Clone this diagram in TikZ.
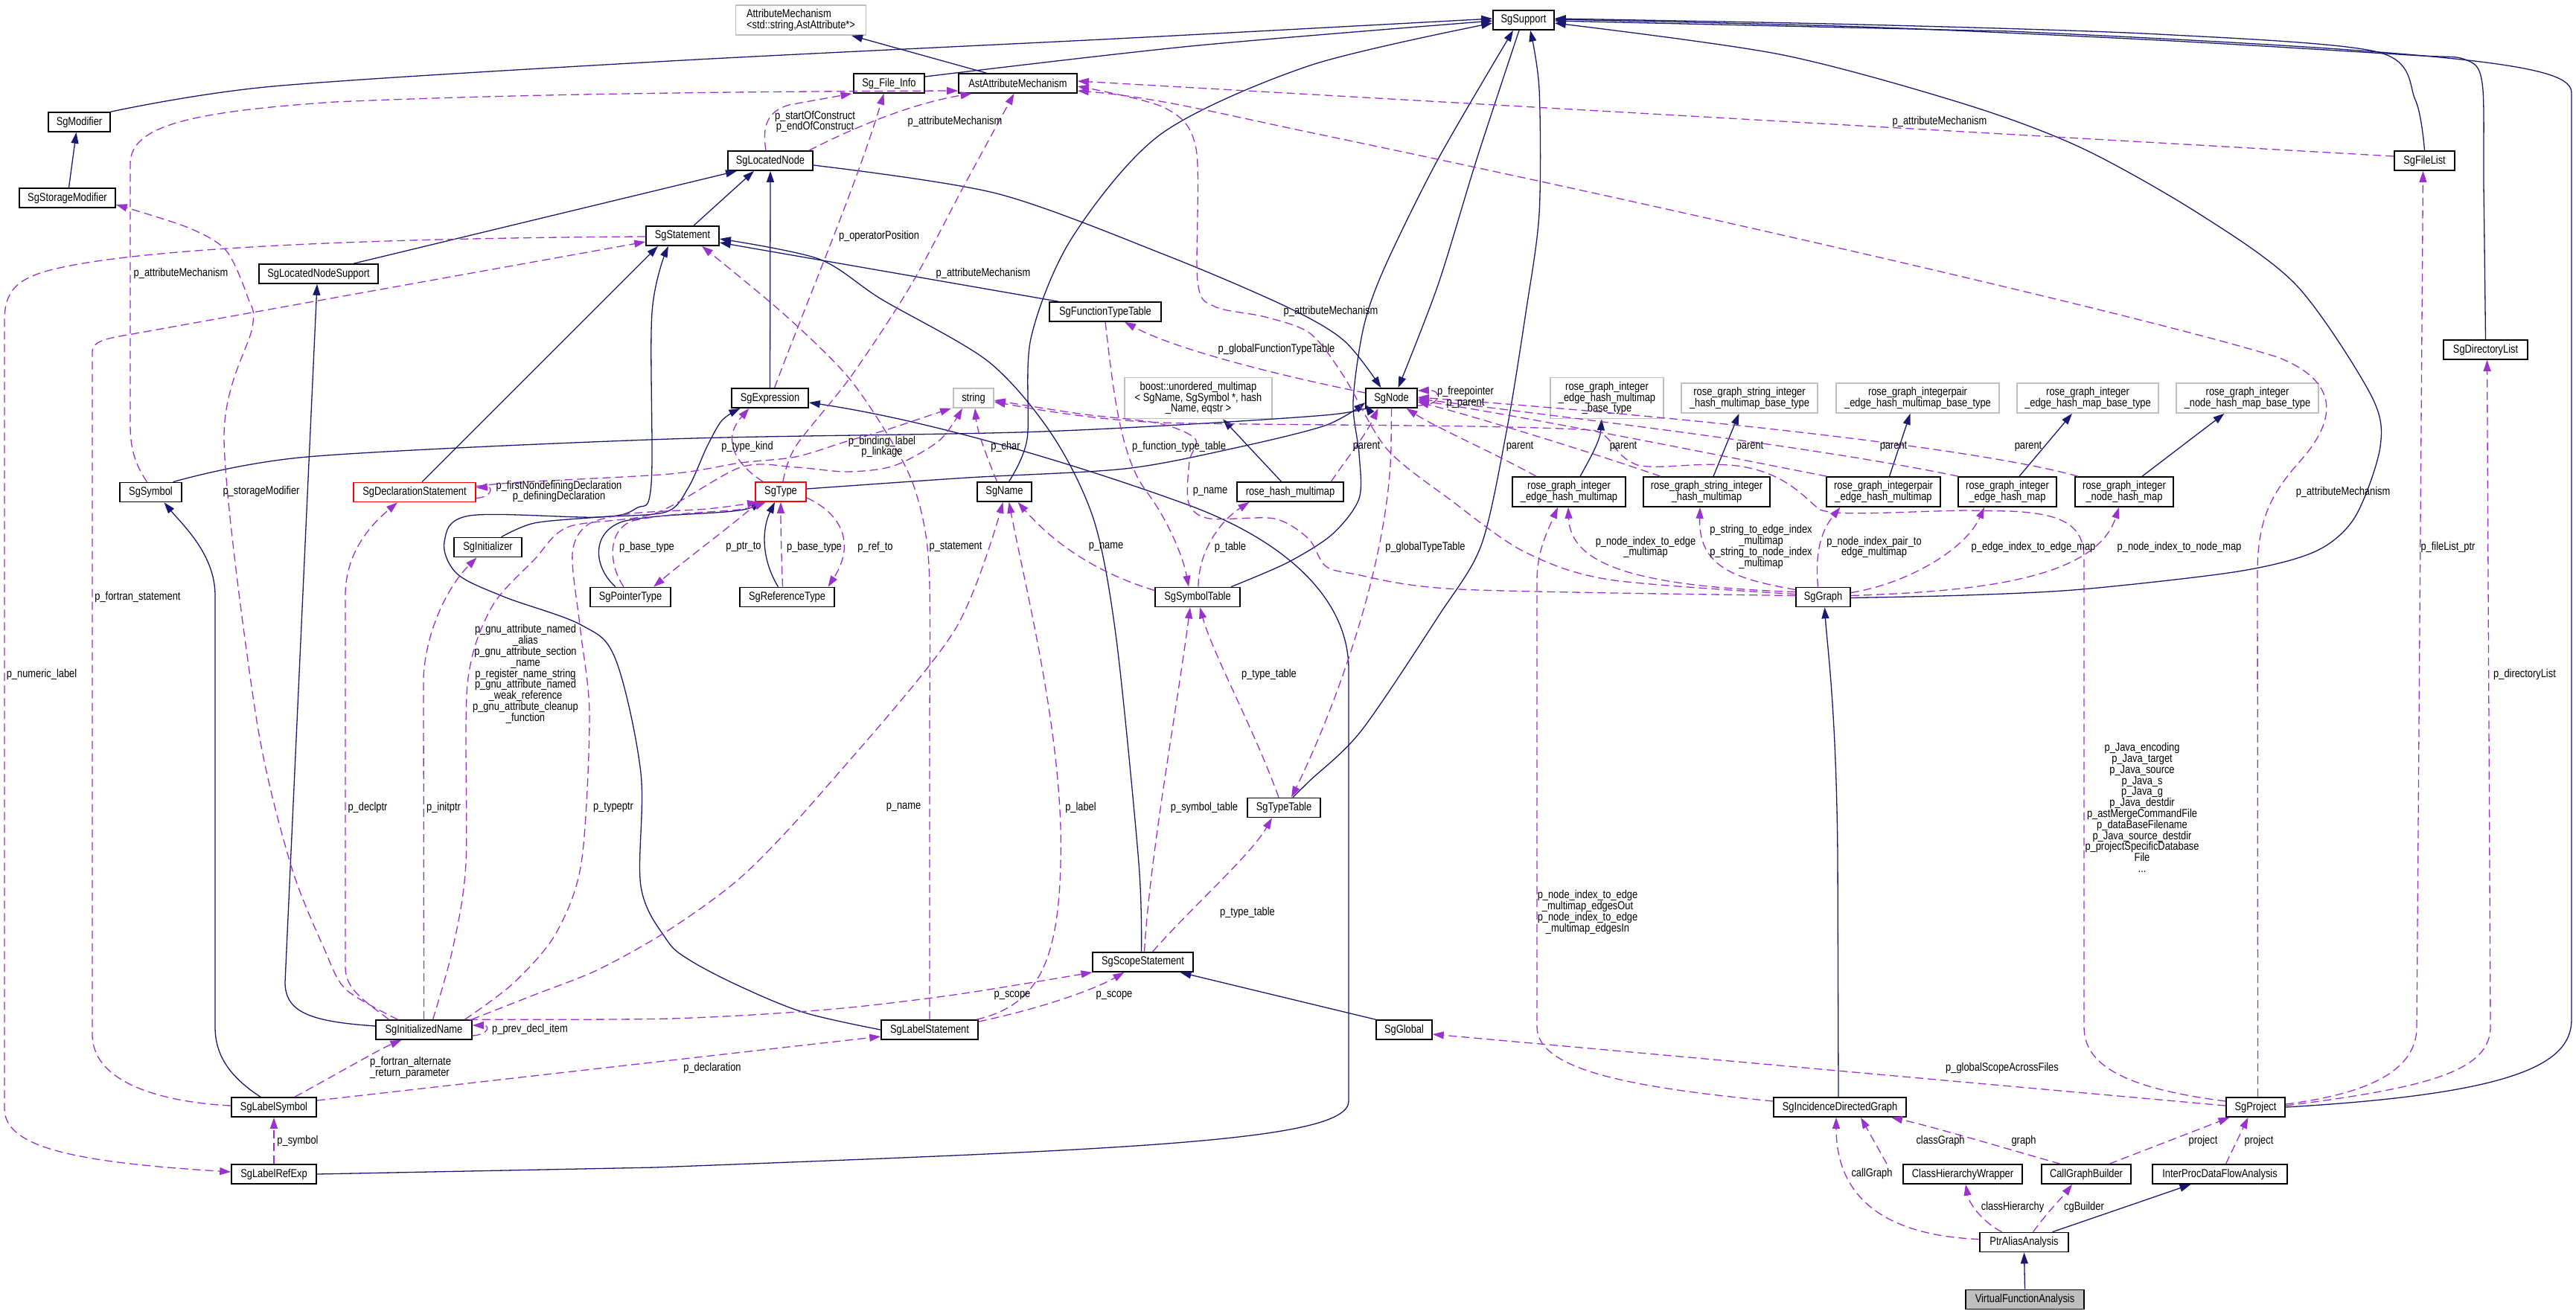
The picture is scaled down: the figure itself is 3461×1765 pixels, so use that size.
\documentclass[tikz,border=0pt]{standalone}
\usepackage{fontspec}
\setmainfont{Liberation Sans}[FakeStretch=0.83]
\usetikzlibrary{arrows.meta}
\definecolor{midblue}{RGB}{25,25,112}
\definecolor{purp}{RGB}{154,50,205}
\definecolor{extgray}{RGB}{191,191,191}
\newcommand{\dgfont}{\fontsize{15.5pt}{14.8pt}\selectfont}
\begin{document}
\begin{tikzpicture}[x=1pt,y=-1pt,
 box/.style={draw=black,line width=1.6pt,fill=white,inner sep=0pt,minimum height=26pt,font=\dgfont,align=center},
 ext/.style={box,draw=extgray},
 redbox/.style={box,draw=red},
 lbl/.style={inner sep=0pt,font=\dgfont,align=center},
 inhedge/.style={draw=midblue,line width=1.3pt,-{Triangle[length=15pt,width=10pt]}},
 usedge/.style={draw=purp,line width=1.3pt,dash pattern=on 11pt off 6pt,-{Triangle[length=15pt,width=10pt]}}]
\fill[white] (0,0) rectangle (3461,1765);
\useasboundingbox (0,0) rectangle (3461,1765);

% ---------------- nodes ----------------
\node[ext,minimum width=175pt,minimum height=40pt,align=left] (AttrMech) at (1076,27) {AttributeMechanism\\<std::string,AstAttribute*>};
\node[box,minimum width=82pt] (SgSupport) at (2047,27) {SgSupport};
\node[box,minimum width=95pt] (SgFileInfo) at (1194.5,112) {Sg\_File\_Info};
\node[box,minimum width=159pt] (AstAttr) at (1367.5,112) {AstAttributeMechanism};
\node[box,minimum width=83pt] (SgModifier) at (106.5,164) {SgModifier};
\node[box,minimum width=114pt] (SgLocatedNode) at (1035,216) {SgLocatedNode};
\node[box,minimum width=81pt] (SgFileList) at (3257.5,216) {SgFileList};
\node[box,minimum width=129pt] (SgStorageModifier) at (90.5,266) {SgStorageModifier};
\node[box,minimum width=98pt] (SgStatement) at (917,317) {SgStatement};
\node[box,minimum width=160pt] (SgLNS) at (428,368) {SgLocatedNodeSupport};
\node[box,minimum width=150pt] (SgFTT) at (1485,419) {SgFunctionTypeTable};
\node[box,minimum width=113pt] (SgDirList) at (3339.5,470) {SgDirectoryList};
\node[box,minimum width=103pt] (SgExpression) at (1034.5,535) {SgExpression};
\node[ext,minimum width=54pt] (str) at (1308,535) {string};
\node[ext,minimum width=198pt,minimum height=55pt] (boost) at (1610,535) {boost::unordered\_multimap\\< SgName, SgSymbol *, hash\\\_Name, eqstr >};
\node[box,minimum width=69pt] (SgNode) at (1869.5,535) {SgNode};
\node[ext,minimum width=152pt,minimum height=55pt] (bEHM) at (2159,535) {rose\_graph\_integer\\\_edge\_hash\_multimap\\\_base\_type};
\node[ext,minimum width=183pt,minimum height=40pt] (bSIHM) at (2350.5,535) {rose\_graph\_string\_integer\\\_hash\_multimap\_base\_type};
\node[ext,minimum width=219pt,minimum height=40pt] (bIPEHM) at (2576.5,535) {rose\_graph\_integerpair\\\_edge\_hash\_multimap\_base\_type};
\node[ext,minimum width=190pt,minimum height=40pt] (bEHMap) at (2805,535) {rose\_graph\_integer\\\_edge\_hash\_map\_base\_type};
\node[ext,minimum width=191pt,minimum height=40pt] (bNHMap) at (3019.5,535) {rose\_graph\_integer\\\_node\_hash\_map\_base\_type};
\node[box,minimum width=83pt] (SgSymbol) at (202.5,661.5) {SgSymbol};
\node[redbox,minimum width=164pt] (SgDecl) at (557,661.5) {SgDeclarationStatement};
\node[redbox,minimum width=68pt] (SgType) at (1049,661) {SgType};
\node[box,minimum width=73pt] (SgName) at (1349.5,661) {SgName};
\node[box,minimum width=143pt] (RHM) at (1733.5,661) {rose\_hash\_multimap};
\node[box,minimum width=152pt,minimum height=40pt] (EHM) at (2108,661) {rose\_graph\_integer\\\_edge\_hash\_multimap};
\node[box,minimum width=170pt,minimum height=40pt] (SIHM) at (2293,661) {rose\_graph\_string\_integer\\\_hash\_multimap};
\node[box,minimum width=153pt,minimum height=40pt] (IPEHM) at (2530.5,661) {rose\_graph\_integerpair\\\_edge\_hash\_multimap};
\node[box,minimum width=132pt,minimum height=40pt] (EHMap) at (2697,661) {rose\_graph\_integer\\\_edge\_hash\_map};
\node[box,minimum width=132pt,minimum height=40pt] (NHMap) at (2854,661) {rose\_graph\_integer\\\_node\_hash\_map};
\node[box,minimum width=91pt] (SgInitializer) at (655.5,735.5) {SgInitializer};
\node[box,minimum width=108pt] (SgPtrType) at (847,802.5) {SgPointerType};
\node[box,minimum width=127pt] (SgRefType) at (1057.5,802.5) {SgReferenceType};
\node[box,minimum width=114pt] (SgSymTab) at (1609,802.5) {SgSymbolTable};
\node[box,minimum width=73pt] (SgGraph) at (2449.5,802.5) {SgGraph};
\node[box,minimum width=98pt] (SgTypeTable) at (1725,1085.5) {SgTypeTable};
\node[box,minimum width=135pt] (SgScope) at (1535.5,1293) {SgScopeStatement};
\node[box,minimum width=129pt] (SgInitName) at (569.5,1384) {SgInitializedName};
\node[box,minimum width=130pt] (SgLabelStmt) at (1249,1384) {SgLabelStatement};
\node[box,minimum width=75pt] (SgGlobal) at (1886.5,1384) {SgGlobal};
\node[box,minimum width=114pt] (SgLabelSymbol) at (368,1488) {SgLabelSymbol};
\node[box,minimum width=178pt] (SgIDG) at (2472,1488) {SgIncidenceDirectedGraph};
\node[box,minimum width=79pt] (SgProject) at (3030.5,1488) {SgProject};
\node[box,minimum width=114pt] (SgLabelRefExp) at (368,1578) {SgLabelRefExp};
\node[box,minimum width=160pt] (CHW) at (2637,1578) {ClassHierarchyWrapper};
\node[box,minimum width=120pt] (CGB) at (2803,1578) {CallGraphBuilder};
\node[box,minimum width=181pt] (IPDFA) at (2982.5,1578) {InterProcDataFlowAnalysis};
\node[box,minimum width=119pt] (PAA) at (2719.5,1669.5) {PtrAliasAnalysis};
\node[box,fill=extgray,minimum width=159pt] (VFA) at (2720.5,1746.5) {VirtualFunctionAnalysis};

% ---------------- inheritance edges ----------------
\draw[inhedge] ([xshift=-42pt]AstAttr.north) -- ([xshift=68pt]AttrMech.south);
\draw[inhedge] plot[smooth] coordinates {(SgModifier.north east) (367,116) (900,82) (1500,52) ([yshift=2pt]SgSupport.west)};
\draw[inhedge] ([xshift=2pt]SgStorageModifier.north) -- ([xshift=-4pt]SgModifier.south);
\draw[inhedge] plot[smooth] coordinates {([yshift=9pt]SgFileInfo.east) (1600,62) ([yshift=-1pt]SgSupport.west)};
\draw[inhedge] ([xshift=47pt]SgLNS.north) -- ([xshift=-45pt]SgLocatedNode.south);
\draw[inhedge] ([xshift=15pt]SgStatement.north) -- ([xshift=-22pt]SgLocatedNode.south);
\draw[inhedge] (SgExpression.north) -- (SgLocatedNode.south);
\draw[inhedge] plot[smooth] coordinates {([yshift=-6pt]SgLocatedNode.east) (1339,260) (1569,344) (1730,413) (1806,458) ([xshift=-14pt]SgNode.north)};
\draw[inhedge] plot[smooth] coordinates {([xshift=-6pt]SgSupport.south) (1984,214) (1932,383) ([xshift=9pt]SgNode.north)};
\draw[inhedge] plot[smooth] coordinates {(SgFileList.north) (3245,134) (3195,70) (2900,46) (2500,33) ([yshift=2pt]SgSupport.east)};
\draw[inhedge] plot[smooth] coordinates {(SgDirList.north) (3337,250) (3335,112) (3312,80) (3237,74) (2900,54) (2500,36) ([yshift=1pt]SgSupport.east)};
\draw[inhedge] (SgProject.east) .. controls (3380,1470) and (3455,1430) .. (3455,1370) -- (3455,125) .. controls (3455,90) and (3350,72) .. (2700,42) -- ([yshift=-1pt]SgSupport.east);
\draw[inhedge] plot[smooth] coordinates {([yshift=-1pt]SgGraph.east) (2640,800) (2797,792) (3007,768) (3111,741) (3164,695) (3198,600) (3185,530) (3085,383) (2954,287) (2797,199) (2640,140) (2391,73) ([yshift=-4pt]SgSupport.east)};
\draw[inhedge] plot[smooth] coordinates {([xshift=6pt]SgName.north) (1380,590) (1385,455) (1440,320) (1560,180) (1760,88) ([yshift=-4pt]SgSupport.west)};
\draw[inhedge] ([xshift=-63pt]SgFTT.north) -- ([yshift=-9pt]SgStatement.east);
\draw[inhedge] plot[smooth] coordinates {([xshift=-2pt]SgScope.north) (1530,1160) (1500,860) (1470,700) (1414,585) (1328,486) (1184,402) (1100,348) ([yshift=-4pt]SgStatement.east)};
\draw[inhedge] ([xshift=10pt]SgDecl.north) -- ([xshift=-33pt]SgStatement.south);
\draw[inhedge] plot[smooth,tension=0.55] coordinates {(SgLabelStmt.west) (1081,1361) (995,1326) (926,1290) (895,1262) (861,1191) (861,1039) (827,886) (781,840) (677,802) (614,771) (597,728) (631,693) (804,695) (855,683) (875,650) (876,420) ([xshift=-19pt]SgStatement.south)};
\draw[inhedge] (SgGlobal.north west) -- ([xshift=50pt]SgScope.south);
\draw[inhedge] ([yshift=5pt]SgInitName.west) .. controls (420,1373) and (383,1362) .. (383,1320) -- ([xshift=-2pt]SgLNS.south);
\draw[inhedge] ([xshift=-18pt]SgLabelSymbol.north) .. controls (305,1445) and (289,1415) .. (289,1380) -- (289,800) .. controls (289,745) and (245,705) .. ([xshift=18pt]SgSymbol.south);
\draw[inhedge] plot[smooth] coordinates {([xshift=30pt]SgSymbol.north) (413,614) (900,590) (1400,580) (1780,558) ([yshift=-8pt]SgNode.west)};
\draw[inhedge] plot[smooth] coordinates {([yshift=4pt]SgType.east) (1300,642) (1511,630) (1655,603) (1780,572) ([yshift=-6pt]SgNode.west)};
\draw[inhedge] ([xshift=-20pt]SgPtrType.north) .. controls (795,760) and (795,712) .. (840,700) .. controls (900,688) and (990,692) .. ([xshift=-25pt]SgType.south);
\draw[inhedge] ([xshift=-12pt]SgRefType.north) .. controls (1022,750) and (1024,710) .. ([xshift=-8pt]SgType.south);
\draw[inhedge] plot[smooth] coordinates {([xshift=18pt]SgInitializer.north) (718,703) (804,695) (895,688) (925,655) (950,600) (970,565) ([xshift=-40pt]SgExpression.south)};
\draw[inhedge] (SgLabelRefExp.east) -- (880,1569) .. controls (1500,1545) and (1812,1535) .. (1812,1480) -- (1812,900) .. controls (1812,800) and (1720,725) .. (1600,680) .. controls (1450,625) and (1250,565) .. ([yshift=-6pt]SgExpression.east);
\draw[inhedge] ([xshift=-12pt]RHM.north) -- ([xshift=33pt]boost.south);
\draw[inhedge] ([xshift=15pt]EHM.north) .. controls (2140,610) and (2150,590) .. ([xshift=-7pt]bEHM.south);
\draw[inhedge] ([xshift=9pt]SIHM.north) -- ([xshift=-14pt]bSIHM.south);
\draw[inhedge] ([xshift=8pt]IPEHM.north) -- ([xshift=-10pt]bIPEHM.south);
\draw[inhedge] ([xshift=16pt]EHMap.north) -- ([xshift=-21pt]bEHMap.south);
\draw[inhedge] ([xshift=24pt]NHMap.north) -- ([xshift=-31pt]bNHMap.south);
\draw[inhedge] plot[smooth] coordinates {([xshift=45pt]SgSymTab.north) (1730,756) (1790,718) (1826,670) (1826,610) (1818,540) (1832,440) (1860,360) (1932,214) ([xshift=-14pt]SgSupport.south)};
\draw[inhedge] plot[smooth] coordinates {([xshift=12pt]SgTypeTable.north) (1760,1049) (1829,982) (1932,829) (1990,733) (2024,580) (2050,420) (2068,287) (2068,120) ([xshift=9pt]SgSupport.south)};
\draw[inhedge] ([xshift=-2pt]SgIDG.north) -- (2469,1150) .. controls (2467,950) and (2455,870) .. ([xshift=2pt]SgGraph.south);
\draw[inhedge] ([xshift=38pt]PAA.north) -- ([xshift=-39pt]IPDFA.south);
\draw[inhedge] (VFA.north) -- (PAA.south);

% ---------------- usage edges ----------------
\draw[usedge] ([xshift=-5pt]SgSymbol.north) .. controls (180,622) and (175,600) .. (175,570) -- (175,220) .. controls (175,168) and (260,150) .. (450,137) .. controls (700,126) and (1000,123) .. ([yshift=-10pt]AstAttr.west);
\draw[usedge] ([xshift=-6pt]SgLocatedNode.north) .. controls (1024,170) and (1030,150) .. (1060,141) -- ([xshift=-50pt]SgFileInfo.south);
\draw[usedge] ([xshift=52pt]SgLocatedNode.north) .. controls (1140,175) and (1220,140) .. ([xshift=-62pt]AstAttr.south);
\draw[usedge] ([xshift=6pt]SgExpression.north) .. controls (1090,390) and (1150,250) .. ([xshift=-7pt]SgFileInfo.south);
\draw[usedge] plot[smooth] coordinates {([xshift=3pt]SgType.north) (1069,600) (1144,505) (1224,383) (1295,250) ([xshift=-5pt]AstAttr.south)};
\draw[usedge] plot[smooth] coordinates {([yshift=4pt]SgGraph.west) (2162,779) (2047,741) (1949,672) (1863,603) (1805,505) (1760,448) (1700,426) (1632,412) (1609,378) (1607,200) (1565,145) ([yshift=-4pt]AstAttr.east)};
\draw[usedge] ([yshift=6pt]SgFileList.west) -- ([yshift=3pt]AstAttr.east);
\draw[usedge] ([xshift=3pt]SgProject.north) -- (3033,770) .. controls (3033,700) and (3050,665) .. (3090,620) .. controls (3135,570) and (3150,515) .. (3060,480) .. controls (2900,430) and (2300,290) .. (1760,178) .. controls (1650,155) and (1550,130) .. ([yshift=-10pt]AstAttr.east);
\draw[usedge] plot[smooth] coordinates {([xshift=-35pt]SgInitName.north) (465,1330) (436,1276) (390,1160) (344,963) (301,590) (339,440) (333,400) (304,337) (253,306) ([yshift=-9pt]SgStorageModifier.east)};
\draw[usedge] ([yshift=2pt]SgLabelSymbol.west) .. controls (230,1482) and (124,1460) .. (124,1390) -- (124,472) .. controls (124,460) and (140,455) .. (172,450) -- ([yshift=-8pt]SgStatement.west);
\draw[usedge] ([yshift=-1pt]SgStatement.west) .. controls (500,320) and (200,333) .. (80,360) .. controls (20,373) and (6,392) .. (6,432) -- (6,1490) .. controls (6,1542) and (100,1562) .. ([yshift=3pt]SgLabelRefExp.west);
\draw[usedge] plot[smooth] coordinates {(SgLabelStmt.north) (1249,1000) (1248,760) (1230,660) (1196,590) (1138,505) (1052,421) ([xshift=26pt]SgStatement.south)};
\draw[usedge] ([yshift=-8pt]SgDecl.east) .. controls (662,668) and (662,654) .. ([yshift=6pt]SgDecl.east);
\draw[usedge] ([xshift=-47pt]SgInitName.north) .. controls (490,1345) and (464,1330) .. (464,1300) -- (464,800) .. controls (464,750) and (490,712) .. ([xshift=-23pt]SgDecl.south);
\draw[usedge] (SgInitName.north) -- (569,910) .. controls (572,850) and (600,790) .. ([xshift=-15pt]SgInitializer.south);
\draw[usedge] plot[smooth] coordinates {([xshift=12pt]SgInitName.north) (608,1276) (626,1160) (628,920) (660,817) (718,752) (764,708) (880,690) (995,628) (1069,628) (1138,634) (1201,626) (1262,592) ([xshift=-15pt]str.south)};
\draw[usedge] plot[smooth] coordinates {([xshift=55pt]SgInitName.north) (689,1322) (746,1256) (781,1160) (792,963) (780,848) (769,745) (790,705) (850,690) (950,684) ([xshift=-30pt]SgType.south)};
\draw[usedge] plot[smooth] coordinates {([xshift=64pt]SgInitName.north) (718,1337) (804,1303) (900,1249) (1000,1175) (1110,1058) (1282,848) ([xshift=-2pt]SgName.south)};
\draw[usedge] plot[smooth] coordinates {([xshift=-4pt]SgInitName.north east) (900,1369) (1110,1357) (1282,1337) ([xshift=-68pt]SgScope.south)};
\draw[usedge] ([yshift=-8pt]SgInitName.east) .. controls (658,1390) and (658,1378) .. ([yshift=6pt]SgInitName.east);
\draw[usedge] plot[smooth] coordinates {([yshift=8pt]SgDecl.east) (700,648) (900,637) (995,622) (1069,614) (1138,593) (1190,578) (1250,558) ([xshift=-30pt]str.south)};
\draw[usedge] ([xshift=-24pt]SgType.north) .. controls (990,625) and (968,592) .. ([xshift=-28pt]SgExpression.south);
\draw[usedge] ([xshift=-9pt]SgPtrType.north) .. controls (818,760) and (815,712) .. (850,700) .. controls (920,685) and (990,690) .. ([xshift=-20pt]SgType.south);
\draw[usedge] ([xshift=-30pt]SgType.south) .. controls (985,705) and (930,745) .. ([xshift=31pt]SgPtrType.north);
\draw[usedge] ([xshift=-6pt]SgRefType.north) .. controls (1050,750) and (1049,710) .. (SgType.south);
\draw[usedge] ([yshift=-8pt]SgType.east) .. controls (1130,690) and (1150,730) .. ([xshift=55pt]SgRefType.north);
\draw[usedge] ([xshift=-10pt]SgName.north) .. controls (1325,612) and (1313,580) .. ([xshift=2pt]str.south);
\draw[usedge] (SgFTT.south) .. controls (1495,520) and (1505,615) .. (1540,660) .. controls (1570,700) and (1590,750) .. ([xshift=-12pt]SgSymTab.north);
\draw[usedge] ([xshift=1pt]SgSymTab.north) .. controls (1610,740) and (1640,700) .. ([xshift=-55pt]RHM.south);
\draw[usedge] ([yshift=9pt]SgSymTab.west) .. controls (1480,772) and (1420,735) .. ([xshift=18pt]SgName.south);
\draw[usedge] plot[smooth] coordinates {([yshift=2pt]SgGraph.west) (1961,792) (1817,771) (1780,760) (1758,724) (1712,697) (1625,697) (1597,676) (1598,620) (1606,590) (1557,569) (1450,556) ([yshift=-3pt]str.east)};
\draw[usedge] ([yshift=8pt]SgProject.west) .. controls (2850,1462) and (2800,1430) .. (2800,1380) -- (2800,750) .. controls (2800,705) and (2770,690) .. (2700,687) -- (2640,686) .. controls (2540,688) and (2470,694) .. (2445,685) .. controls (2425,670) and (2400,635) .. (2334,626) .. controls (2280,620) and (2230,632) .. (2200,625) .. controls (2165,612) and (2170,585) .. (2140,578) .. controls (2000,570) and (1700,572) .. (1560,568) .. controls (1480,565) and (1400,552) .. ([yshift=-5pt]str.east);
\draw[usedge] ([xshift=55pt]RHM.north) .. controls (1805,622) and (1835,585) .. ([xshift=-18pt]SgNode.south);
\draw[usedge] ([xshift=-44pt]EHM.north) .. controls (2000,605) and (1930,575) .. ([xshift=20pt]SgNode.south);
\draw[usedge] ([xshift=-62pt]SIHM.north) .. controls (2150,612) and (2000,565) .. ([yshift=-5pt]SgNode.east);
\draw[usedge] ([xshift=-76pt]IPEHM.north) .. controls (2300,610) and (2050,560) .. ([yshift=-3pt]SgNode.east);
\draw[usedge] ([xshift=-66pt]EHMap.north) .. controls (2450,602) and (2100,560) .. ([yshift=-1pt]SgNode.east);
\draw[usedge] ([xshift=-62pt]NHMap.north) .. controls (2640,598) and (2200,555) .. ([yshift=1pt]SgNode.east);
\draw[usedge] (SgNode.south) -- (1869,600) .. controls (1866,760) and (1790,960) .. ([xshift=10pt]SgTypeTable.north);
\draw[usedge] ([yshift=7pt]SgNode.west) .. controls (1720,505) and (1580,470) .. ([xshift=26pt]SgFTT.south);
\draw[usedge] ([yshift=-10pt]SgNode.east) .. controls (1938,545) and (1938,524) .. ([yshift=10pt]SgNode.east);
\draw[usedge] ([yshift=7pt]SgGraph.west) .. controls (2200,788) and (2110,760) .. ([xshift=-1pt]EHM.south);
\draw[usedge] ([yshift=10pt]SgGraph.west) .. controls (2330,778) and (2282,762) .. ([xshift=-9pt]SIHM.south);
\draw[usedge] ([xshift=-7pt]SgGraph.north) .. controls (2438,740) and (2448,712) .. ([xshift=-58pt]IPEHM.south);
\draw[usedge] ([yshift=6pt]SgGraph.east) .. controls (2560,785) and (2640,740) .. ([xshift=-31pt]EHMap.south);
\draw[usedge] ([yshift=2pt]SgGraph.east) .. controls (2650,795) and (2815,780) .. ([xshift=-7pt]NHMap.south);
\draw[usedge] ([yshift=8pt]SgIDG.west) .. controls (2200,1462) and (2065,1440) .. (2065,1380) -- (2065,780) .. controls (2065,740) and (2080,712) .. ([xshift=-15pt]EHM.south);
\draw[usedge] ([xshift=2pt]SgScope.north) .. controls (1545,1150) and (1580,960) .. ([xshift=-10pt]SgSymTab.south);
\draw[usedge] ([xshift=13pt]SgScope.north) .. controls (1600,1220) and (1680,1150) .. ([xshift=-16pt]SgTypeTable.south);
\draw[usedge] ([xshift=-7pt]SgTypeTable.north) .. controls (1685,980) and (1630,880) .. ([xshift=3pt]SgSymTab.south);
\draw[usedge] ([xshift=63pt]SgLabelStmt.north) .. controls (1390,1352) and (1422,1300) .. (1425,1160) .. controls (1430,1000) and (1380,800) .. ([xshift=6pt]SgName.south);
\draw[usedge] ([yshift=11pt]SgLabelStmt.east) .. controls (1400,1355) and (1470,1330) .. ([xshift=-25pt]SgScope.south);
\draw[usedge] ([xshift=28pt]SgLabelSymbol.north) .. controls (450,1445) and (510,1410) .. ([xshift=-30pt]SgInitName.south);
\draw[usedge] ([yshift=9pt]SgLabelSymbol.east) -- ([yshift=-9pt]SgLabelStmt.west);
\draw[usedge] (SgLabelRefExp.north) -- (SgLabelSymbol.south);
\draw[usedge] ([yshift=2pt]SgProject.west) -- ([yshift=-6pt]SgGlobal.east);
\draw[usedge] ([yshift=4pt]SgProject.east) .. controls (3180,1470) and (3247,1440) .. (3247,1380) -- ([xshift=-2pt]SgFileList.south);
\draw[usedge] ([yshift=2pt]SgProject.east) .. controls (3260,1462) and (3346,1440) .. (3346,1380) -- ([xshift=2pt]SgDirList.south);
\draw[usedge] ([xshift=-35pt]CGB.north) .. controls (2700,1545) and (2600,1515) .. ([xshift=69pt]SgIDG.south);
\draw[usedge] ([xshift=31pt]CGB.north) -- ([xshift=-35pt]SgProject.south);
\draw[usedge] ([xshift=8pt]IPDFA.north) -- ([xshift=-10pt]SgProject.south);
\draw[usedge] ([xshift=-102pt]CHW.north) -- ([xshift=28pt]SgIDG.south);
\draw[usedge] ([yshift=4pt]PAA.west) .. controls (2520,1660) and (2467,1600) .. ([xshift=-5pt]SgIDG.south);
\draw[usedge] ([xshift=-30pt]PAA.north) .. controls (2660,1640) and (2645,1615) .. ([xshift=4pt]CHW.south);
\draw[usedge] ([xshift=12pt]PAA.north) .. controls (2750,1630) and (2770,1610) .. ([xshift=-19pt]CGB.south);

% ---------------- labels ----------------
\node[lbl] (l1) at (243,367) {p\_attributeMechanism};
\node[lbl] (l2) at (1095,163.5) {p\_startOfConstruct\\p\_endOfConstruct};
\node[lbl] (l3) at (1283,163) {p\_attributeMechanism};
\node[lbl] (l4) at (1181,317) {p\_operatorPosition};
\node[lbl] (l5) at (1321,367) {p\_attributeMechanism};
\node[lbl] (l6) at (1788,418) {p\_attributeMechanism};
\node[lbl] (l7) at (2606,163) {p\_attributeMechanism};
\node[lbl] (l8) at (3148,661) {p\_attributeMechanism};
\node[lbl] (l9) at (1715,469) {p\_globalFunctionTypeTable};
\node[lbl] (l10) at (1969,534) {p\_freepointer\\p\_parent};
\node[lbl] (l11) at (351,660) {p\_storageModifier};
\node[lbl] (l12) at (751,660.5) {p\_firstNondefiningDeclaration\\p\_definingDeclaration};
\node[lbl] (l13) at (185,802) {p\_fortran\_statement};
\node[lbl] (l14) at (56,906) {p\_numeric\_label};
\node[lbl] (l15) at (706,906) {p\_gnu\_attribute\_named\\\_alias\\p\_gnu\_attribute\_section\\\_name\\p\_register\_name\_string\\p\_gnu\_attribute\_named\\\_weak\_reference\\p\_gnu\_attribute\_cleanup\\\_function};
\node[lbl] (l16) at (494,1085) {p\_declptr};
\node[lbl] (l17) at (596,1085) {p\_initptr};
\node[lbl] (l18) at (824,1085) {p\_typeptr};
\node[lbl] (l19) at (869,735) {p\_base\_type};
\node[lbl] (l20) at (1004,600) {p\_type\_kind};
\node[lbl] (l21) at (1185,600.5) {p\_binding\_label\\p\_linkage};
\node[lbl] (l22) at (1351,600) {p\_char};
\node[lbl] (l23) at (1584,600) {p\_function\_type\_table};
\node[lbl] (l24) at (1626,661) {p\_name};
\node[lbl] (l25) at (999,735) {p\_ptr\_to};
\node[lbl] (l26) at (1094,735) {p\_base\_type};
\node[lbl] (l27) at (1176,735) {p\_ref\_to};
\node[lbl] (l28) at (1284,735) {p\_statement};
\node[lbl] (l29) at (1486,735) {p\_name};
\node[lbl] (l30) at (1653,735) {p\_table};
\node[lbl] (l31) at (1705,906) {p\_type\_table};
\node[lbl] (l32) at (1214,1085) {p\_name};
\node[lbl] (l33) at (1452,1085) {p\_label};
\node[lbl] (l34) at (1618,1085) {p\_symbol\_table};
\node[lbl] (l35a) at (1836,600) {parent};
\node[lbl] (l35b) at (2042,600) {parent};
\node[lbl] (l35c) at (2181,600) {parent};
\node[lbl] (l35d) at (2351,600) {parent};
\node[lbl] (l35e) at (2544,600) {parent};
\node[lbl] (l35f) at (2725,600) {parent};
\node[lbl] (l36) at (1915,735) {p\_globalTypeTable};
\node[lbl] (l37) at (2211,735.5) {p\_node\_index\_to\_edge\\\_multimap};
\node[lbl] (l38) at (2366,735) {p\_string\_to\_edge\_index\\\_multimap\\p\_string\_to\_node\_index\\\_multimap};
\node[lbl] (l39) at (2518,735.5) {p\_node\_index\_pair\_to\\edge\_multimap};
\node[lbl] (l40) at (2732,735) {p\_edge\_index\_to\_edge\_map};
\node[lbl] (l41) at (2928,735) {p\_node\_index\_to\_node\_map};
\node[lbl] (l42) at (3289,735) {p\_fileList\_ptr};
\node[lbl] (l43) at (3392,906) {p\_directoryList};
\node[lbl] (l44) at (2878,1085.5) {p\_Java\_encoding\\p\_Java\_target\\p\_Java\_source\\p\_Java\_s\\p\_Java\_g\\p\_Java\_destdir\\p\_astMergeCommandFile\\p\_dataBaseFilename\\p\_Java\_source\_destdir\\p\_projectSpecificDatabase\\File\\...};
\node[lbl] (l45) at (712,1383) {p\_prev\_decl\_item};
\node[lbl,align=left,anchor=west] (l46) at (497,1435) {p\_fortran\_alternate\\\_return\_parameter};
\node[lbl] (l47) at (400,1533) {p\_symbol};
\node[lbl] (l48) at (1676,1226) {p\_type\_table};
\node[lbl] (l49) at (1360,1338) {p\_scope};
\node[lbl] (l50) at (1497,1338) {p\_scope};
\node[lbl] (l51) at (957,1435) {p\_declaration};
\node[lbl] (l52) at (2133,1226) {p\_node\_index\_to\_edge\\\_multimap\_edgesOut\\p\_node\_index\_to\_edge\\\_multimap\_edgesIn};
\node[lbl] (l53) at (2690,1435) {p\_globalScopeAcrossFiles};
\node[lbl] (l54) at (2607,1533) {classGraph};
\node[lbl] (l55) at (2719,1533) {graph};
\node[lbl] (l56) at (2960,1533) {project};
\node[lbl] (l57) at (3035,1533) {project};
\node[lbl] (l58) at (2515,1577) {callGraph};
\node[lbl] (l59) at (2704,1622) {classHierarchy};
\node[lbl] (l60) at (2800,1622) {cgBuilder};
\end{tikzpicture}
\end{document}
